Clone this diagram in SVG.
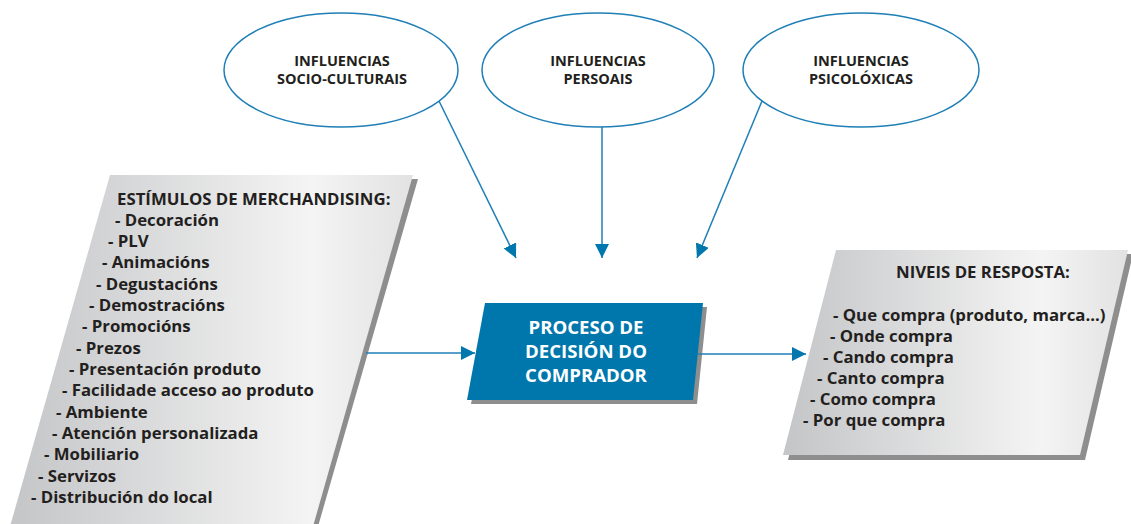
<svg xmlns="http://www.w3.org/2000/svg" width="1131" height="524" viewBox="0 0 1131 524">
<style>
.ell{fill:#fff;stroke:#1f7fb6;stroke-width:1.5}
.et{font-family:"Open Sans","Liberation Sans",sans-serif;font-weight:700;font-size:14.5px;fill:#231f20;text-anchor:middle}
.lt{font-family:"Open Sans","Liberation Sans",sans-serif;font-weight:700;font-size:16.8px;fill:#231f20}
.ct{font-family:"Open Sans","Liberation Sans",sans-serif;font-weight:700;font-size:18.6px;fill:#fff;text-anchor:middle}
.con{stroke:#1f7fb6;stroke-width:1.5;fill:none}
.shadow{fill:#8e8e8e}
</style>
<defs>
<linearGradient id="g" x1="0" y1="0" x2="1" y2="0">
<stop offset="0" stop-color="#c4c5c7"/>
<stop offset="0.75" stop-color="#f4f4f4"/>
<stop offset="1" stop-color="#e2e2e2"/>
</linearGradient>
<marker id="ah2" viewBox="0 0 10 10" refX="10" refY="5" markerWidth="14" markerHeight="14" markerUnits="userSpaceOnUse" orient="auto">
<path d="M0,0 L10,5 L0,10 z" fill="#0078ad"/>
</marker>
</defs>

<g id="influencias-socio">
<ellipse class="ell" cx="341" cy="70" rx="117" ry="57"/>
<text class="et" x="342" y="66">INFLUENCIAS</text>
<text class="et" x="342" y="84">SOCIO-CULTURAIS</text>
</g>
<g id="influencias-persoais">
<ellipse class="ell" cx="598" cy="70" rx="116" ry="57"/>
<text class="et" x="598" y="66">INFLUENCIAS</text>
<text class="et" x="598" y="84">PERSOAIS</text>
</g>
<g id="influencias-psico">
<ellipse class="ell" cx="861" cy="70" rx="118" ry="57"/>
<text class="et" x="861" y="66">INFLUENCIAS</text>
<text class="et" x="861" y="84">PSICOLÓXICAS</text>
</g>

<g id="estimulos">
<polygon class="shadow" points="115,179 418,179 317,530 14,530"/>
<polygon fill="url(#g)" points="110,175 413,175 312,530 9,530"/>
<text class="lt" x="117" y="205">ESTÍMULOS DE MERCHANDISING:</text>
<text class="lt" x="115" y="226">- Decoración</text>
<text class="lt" x="108" y="247">- PLV</text>
<text class="lt" x="102" y="268">- Animacións</text>
<text class="lt" x="96" y="290">- Degustacións</text>
<text class="lt" x="89" y="311">- Demostracións</text>
<text class="lt" x="82" y="332">- Promocións</text>
<text class="lt" x="76" y="354">- Prezos</text>
<text class="lt" x="69" y="375">- Presentación produto</text>
<text class="lt" x="62" y="396">- Facilidade acceso ao produto</text>
<text class="lt" x="56" y="418">- Ambiente</text>
<text class="lt" x="52" y="439">- Atención personalizada</text>
<text class="lt" x="44" y="460">- Mobiliario</text>
<text class="lt" x="38" y="482">- Servizos</text>
<text class="lt" x="31" y="503">- Distribución do local</text>
</g>

<g id="proceso">
<polygon class="shadow" points="489,307 707,307 697,404 471,404"/>
<polygon fill="#0077ac" points="485,303 703,303 693,400 467,400"/>
<text class="ct" x="586" y="334">PROCESO DE</text>
<text class="ct" x="586" y="358">DECISIÓN DO</text>
<text class="ct" x="586" y="382">COMPRADOR</text>
</g>

<g id="niveis">
<polygon class="shadow" points="841,254 1133,254 1085,460 788,460"/>
<polygon fill="url(#g)" points="836,250 1128,250 1080,455 783,455"/>
<text class="lt" x="896" y="278">NIVEIS DE RESPOSTA:</text>
<text class="lt" x="833" y="321">- Que compra (produto, marca...)</text>
<text class="lt" x="830" y="342">- Onde compra</text>
<text class="lt" x="823" y="363">- Cando compra</text>
<text class="lt" x="817" y="384">- Canto compra</text>
<text class="lt" x="810" y="405">- Como compra</text>
<text class="lt" x="803" y="426">- Por que compra</text>
</g>

<g id="connectors">
<line class="con" x1="439" y1="101" x2="516" y2="258" marker-end="url(#ah2)"/>
<line class="con" x1="602" y1="127" x2="602" y2="258" marker-end="url(#ah2)"/>
<line class="con" x1="762" y1="101" x2="697" y2="258" marker-end="url(#ah2)"/>
<line class="con" x1="366" y1="353" x2="475" y2="353" marker-end="url(#ah2)"/>
<line class="con" x1="698" y1="354" x2="806" y2="354" marker-end="url(#ah2)"/>
</g>
</svg>
